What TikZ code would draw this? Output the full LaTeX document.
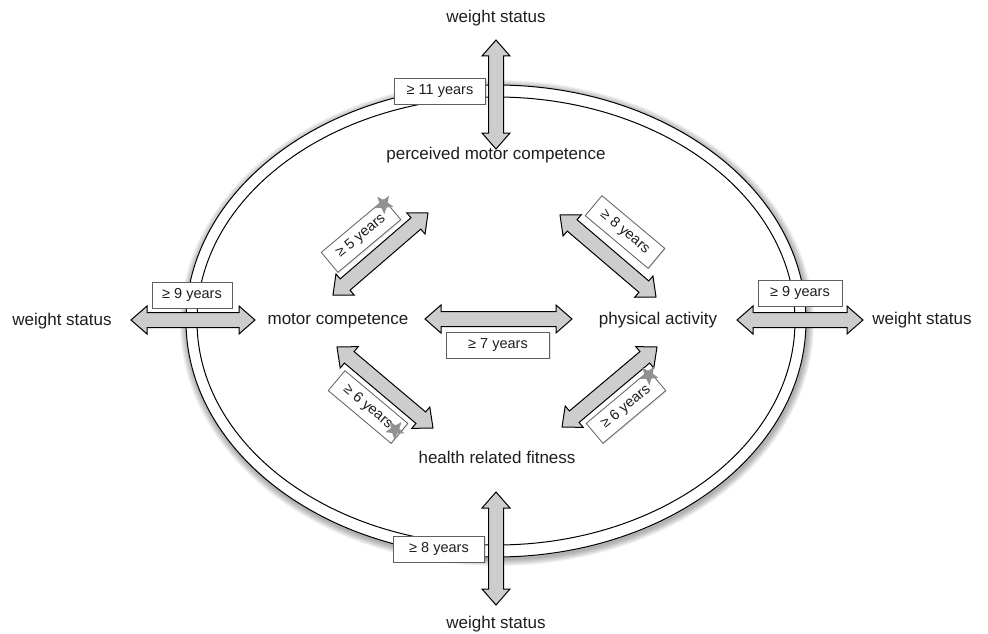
\documentclass[tikz,border=0pt]{standalone}
\usepackage{fontspec}
\setmainfont{Liberation Sans}
\usetikzlibrary{calc,shapes.geometric,shadows}
\definecolor{arrowgray}{RGB}{205,205,205}
\definecolor{boxline}{RGB}{95,95,95}
\definecolor{stargray}{RGB}{145,145,145}
\definecolor{textdark}{RGB}{30,30,30}

% block arrow with two heads, from #1 to #2
\newcommand\arrhead{16pt}
\newcommand\arrwide{14pt}
\newcommand\arrshaft{7.5pt}
\newcommand\dblarrow[2]{%
  \draw[blockarrow] (#1)
    -- ($(#1)!\arrhead!(#2)!\arrwide!90:(#2)$)
    -- ($(#1)!\arrhead!(#2)!\arrshaft!90:(#2)$)
    -- ($(#2)!\arrhead!(#1)!\arrshaft!-90:(#1)$)
    -- ($(#2)!\arrhead!(#1)!\arrwide!-90:(#1)$)
    -- (#2)
    -- ($(#2)!\arrhead!(#1)!\arrwide!90:(#1)$)
    -- ($(#2)!\arrhead!(#1)!\arrshaft!90:(#1)$)
    -- ($(#1)!\arrhead!(#2)!\arrshaft!-90:(#2)$)
    -- ($(#1)!\arrhead!(#2)!\arrwide!-90:(#2)$)
    -- cycle;}

\begin{document}
\begin{tikzpicture}[
  x=1pt, y=-1pt,
  lbl/.style={font=\fontsize{17}{20}\selectfont, text=textdark, inner sep=1pt},
  yrbox/.style={draw=boxline, fill=white, line width=0.8pt,
    font=\fontsize{14.5}{17}\selectfont, text=textdark,
    minimum height=26pt, inner xsep=9pt, inner ysep=0pt,
    drop shadow={opacity=0.2, shadow xshift=1pt, shadow yshift=-1pt}},
  blockarrow/.style={draw=black, fill=arrowgray, line width=1pt, line join=miter},
  ring/.style={draw=black, line width=1pt},
  staricon/.style={star, star points=5, star point ratio=2.3, fill=stargray,
    minimum size=20pt, inner sep=0pt}
]
\useasboundingbox (0,0) rectangle (988,634);

% soft shadow round the ring
\foreach \k in {1,...,7}
  \draw[black, opacity=0.05, line width=2*\k pt] (497,323) ellipse [x radius=310, y radius=236];
\fill[white] (496,321) ellipse [x radius=310, y radius=236];
\draw[ring] (496,321) ellipse [x radius=310, y radius=236];
\draw[ring] (496,321) ellipse [x radius=299, y radius=224];

% labels
\node[lbl] (wsT) at (496,18) {weight status};
\node[lbl] (wsB) at (496,624) {weight status};
\node[lbl] (wsL) at (62,321) {weight status};
\node[lbl] (wsR) at (922,320) {weight status};
\node[lbl] (mc) at (338,321) {motor competence};
\node[lbl] (pa) at (658,320) {physical activity};
\node[lbl] (pmc) at (496,155) {perceived motor competence};
\node[lbl] (hrf) at (497,457) {health related fitness};

% arrow end points
\coordinate (wsT1) at (496,40);   \coordinate (wsT2) at (496,149);
\coordinate (wsB1) at (496,492);  \coordinate (wsB2) at (496,605);
\coordinate (wsL1) at (131,320);  \coordinate (wsL2) at (255,320);
\coordinate (wsR1) at (737,320);  \coordinate (wsR2) at (863,320);
\coordinate (mcpa1) at (425,319); \coordinate (mcpa2) at (572,319);
\coordinate (mcpm1) at (333,295); \coordinate (mcpm2) at (428,213);
\coordinate (papm1) at (560,215); \coordinate (papm2) at (656,297);
\coordinate (mchf1) at (337,347); \coordinate (mchf2) at (433,428);
\coordinate (pahf1) at (657,347); \coordinate (pahf2) at (562,427);

\dblarrow{wsT1}{wsT2}
\dblarrow{wsB1}{wsB2}
\dblarrow{wsL1}{wsL2}
\dblarrow{wsR1}{wsR2}
\dblarrow{mcpa1}{mcpa2}
\dblarrow{mcpm1}{mcpm2}
\dblarrow{papm1}{papm2}
\dblarrow{mchf1}{mchf2}
\dblarrow{pahf1}{pahf2}

% age boxes
\node[yrbox, minimum width=91pt] (y11) at (440,91) {≥ 11 years};
\node[yrbox, minimum width=91pt] (y8) at (439,549) {≥ 8 years};
\node[yrbox, minimum width=80pt] (y9l) at (192,295) {≥ 9 years};
\node[yrbox, minimum width=84pt] (y9r) at (800,293) {≥ 9 years};
\node[yrbox, minimum width=103pt] (y7) at (498,345) {≥ 7 years};
\node[yrbox, minimum width=82pt, rotate=40] (y5) at (361,236) {≥ 5 years};
\node[yrbox, minimum width=82pt, rotate=-40] (y8d) at (625,232) {≥ 8 years};
\node[yrbox, minimum width=82pt, rotate=-40] (y6l) at (368,407) {≥ 6 years};
\node[yrbox, minimum width=82pt, rotate=40] (y6r) at (626,407) {≥ 6 years};

% stars
\node[staricon, rotate=40, anchor=north east] (s5) at (y5.north east) {};
\node[staricon, rotate=-40, anchor=east] (s6l) at (y6l.east) {};
\node[staricon, rotate=40, anchor=north east] (s6r) at (y6r.north east) {};
\end{tikzpicture}
\end{document}
